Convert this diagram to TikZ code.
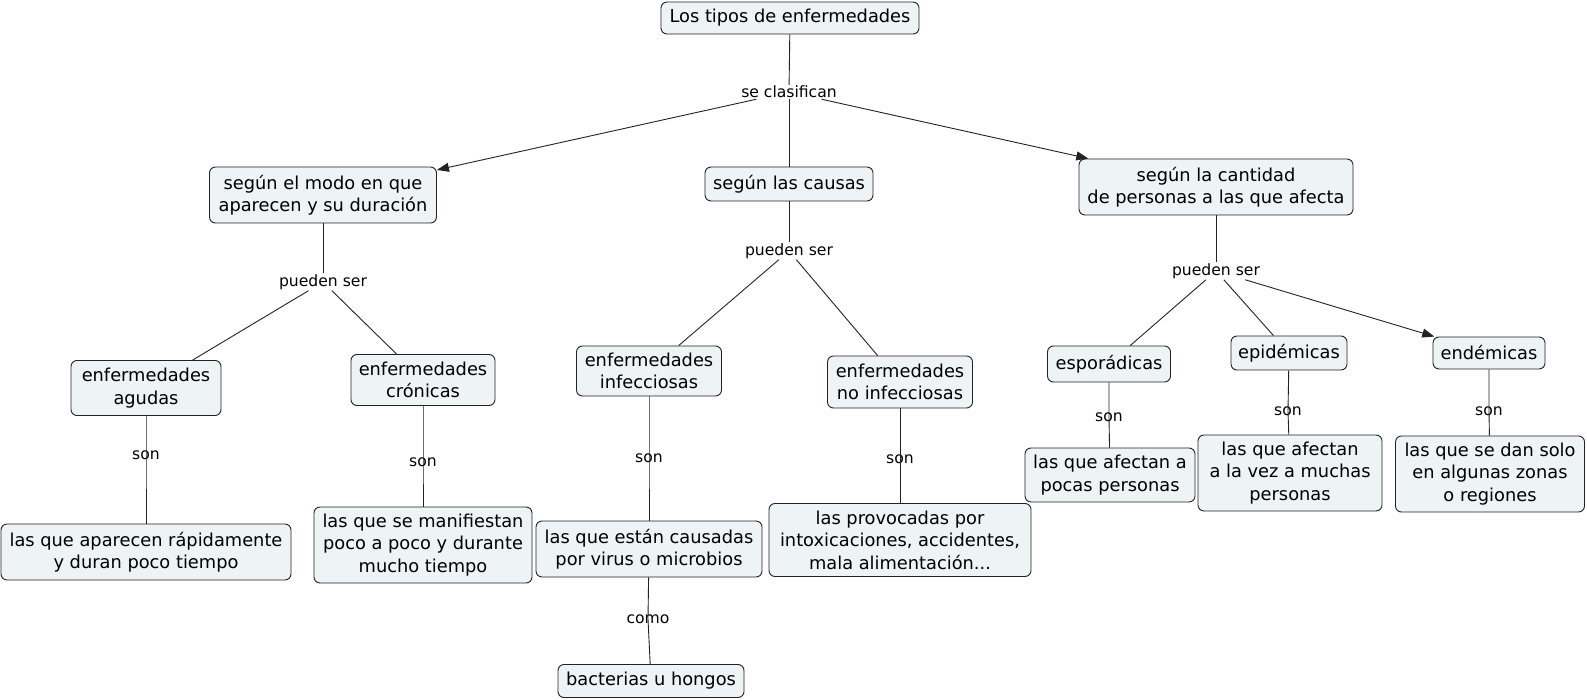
\documentclass[tikz,border=0pt]{standalone}
\usepackage{fontspec}
\setmainfont{DejaVu Sans}
\usetikzlibrary{arrows.meta}
\definecolor{boxfill}{HTML}{EEF3F5}
\definecolor{edgec}{HTML}{222222}
\begin{document}
\begin{tikzpicture}[x=1pt,y=-1pt,
  concept/.style={draw=edgec, fill=boxfill, rounded corners=6pt, line width=0.9pt,
    align=center, inner sep=2pt, text=black, font=\fontsize{17.8}{22.5}\selectfont},
  lbl/.style={inner sep=1pt, text=black, font=\fontsize{15.6}{18}\selectfont},
  link/.style={draw=edgec, line width=0.9pt},
  arr/.style={link, -{Triangle[length=12pt,width=9pt]}}]
\useasboundingbox (0,0) rectangle (1587,700);

% concepts
\node[concept, minimum width=258pt, minimum height=32pt] (top) at (790,18) {Los tipos de enfermedades};
\node[concept, minimum width=227pt, minimum height=56pt] (modo) at (323,195) {según el modo en que\\aparecen y su duración};
\node[concept, minimum width=168pt, minimum height=34pt] (causas) at (789,184) {según las causas};
\node[concept, minimum width=274pt, minimum height=56pt] (cant) at (1216,187) {según la cantidad\\de personas a las que afecta};

\node[concept, minimum width=150pt, minimum height=55pt] (agudas) at (146,388) {enfermedades\\agudas};
\node[concept, minimum width=144pt, minimum height=51pt] (cronicas) at (423,380) {enfermedades\\crónicas};
\node[concept, minimum width=145pt, minimum height=50pt] (infec) at (649,371) {enfermedades\\infecciosas};
\node[concept, minimum width=145pt, minimum height=52pt] (noinfec) at (900,382) {enfermedades\\no infecciosas};
\node[concept, minimum width=123pt, minimum height=36pt] (espor) at (1109,364) {esporádicas};
\node[concept, minimum width=116pt, minimum height=34pt] (epid) at (1289,353) {epidémicas};
\node[concept, minimum width=112pt, minimum height=32pt] (endem) at (1489,353) {endémicas};

\node[concept, minimum width=290pt, minimum height=56pt] (dAgudas) at (146,552) {las que aparecen rápidamente\\y duran poco tiempo};
\node[concept, minimum width=218pt, minimum height=76pt] (dCron) at (423,545) {las que se manifiestan\\poco a poco y durante\\mucho tiempo};
\node[concept, minimum width=226pt, minimum height=56pt] (dInfec) at (649,549) {las que están causadas\\por virus o microbios};
\node[concept, minimum width=262pt, minimum height=73pt] (dNoinfec) at (900,540) {las provocadas por\\intoxicaciones, accidentes,\\mala alimentación...};
\node[concept, minimum width=170pt, minimum height=54pt] (dEspor) at (1110,475) {las que afectan a\\pocas personas};
\node[concept, minimum width=184pt, minimum height=76pt] (dEpid) at (1290,473) {las que afectan\\a la vez a muchas\\personas};
\node[concept, minimum width=189pt, minimum height=76pt] (dEndem) at (1490,474) {las que se dan solo\\en algunas zonas\\o regiones};
\node[concept, minimum width=186pt, minimum height=33pt] (bact) at (651,681) {bacterias u hongos};

% labels
\node[lbl] (l0) at (789,92) {se clasifican};
\node[lbl] (l1) at (323,282) {pueden ser};
\node[lbl] (l2) at (789,251) {pueden ser};
\node[lbl] (l3) at (1216,271) {pueden ser};
\node[lbl] (s1) at (146,455) {son};
\node[lbl] (s2) at (423,462) {son};
\node[lbl] (s3) at (649,458) {son};
\node[lbl] (s4) at (900,459) {son};
\node[lbl] (s5) at (1109,417) {son};
\node[lbl] (s6) at (1288,411) {son};
\node[lbl] (s7) at (1489,411) {son};
\node[lbl] (c1) at (648,619) {como};

% connectors
\draw[link] (top) -- (l0);
\draw[arr] (l0) -- (modo);
\draw[link] (l0) -- (causas);
\draw[arr] (l0) -- (cant);

\draw[link] (modo) -- (l1);
\draw[link] (l1) -- (agudas);
\draw[link] (l1) -- (cronicas);

\draw[link] (causas) -- (l2);
\draw[link] (l2) -- (infec);
\draw[link] (l2) -- (noinfec);

\draw[link] (cant) -- (l3);
\draw[link] (l3) -- (espor);
\draw[link] (l3) -- (epid);
\draw[arr] (l3) -- (endem);

\draw[link] (agudas) -- (s1.center) -- (dAgudas);
\draw[link] (cronicas) -- (s2.center) -- (dCron);
\draw[link] (infec) -- (s3.center) -- (dInfec);
\draw[link] (noinfec) -- (s4.center) -- (dNoinfec);
\draw[link] (espor) -- (s5.center) -- (dEspor);
\draw[link] (epid) -- (s6.center) -- (dEpid);
\draw[link] (endem) -- (s7.center) -- (dEndem);
\draw[link] (dInfec) -- (c1.center) -- (bact);
\end{tikzpicture}
\end{document}
